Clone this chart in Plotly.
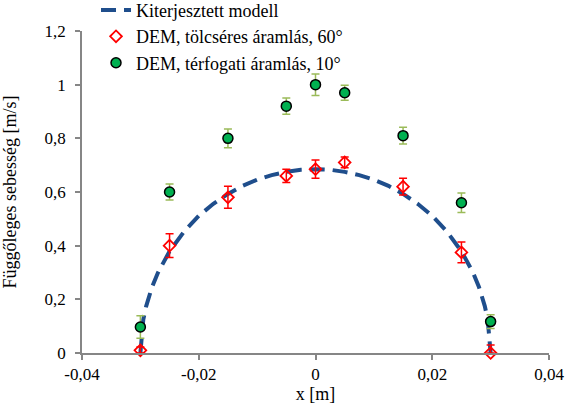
import plotly.graph_objects as go

# Model curve
model_x = [-0.03, -0.0295, -0.029, -0.028, -0.027, -0.025, -0.0225, -0.02, -0.0175, -0.015,
           -0.0125, -0.01, -0.0075, -0.005, -0.0025, 0.0, 0.0025, 0.005, 0.0075, 0.01,
           0.0125, 0.015, 0.0175, 0.02, 0.0225, 0.025, 0.027, 0.028, 0.029, 0.0295, 0.03]
model_y = [0.0, 0.125, 0.175, 0.246, 0.299, 0.379, 0.453, 0.511, 0.556, 0.593,
           0.623, 0.646, 0.663, 0.675, 0.683, 0.685, 0.683, 0.675, 0.663, 0.646,
           0.623, 0.593, 0.556, 0.511, 0.453, 0.379, 0.299, 0.246, 0.175, 0.125, 0.0]

# DEM, funnel flow 60°
red_x = [-0.03, -0.025, -0.015, -0.005, 0.0, 0.005, 0.015, 0.025, 0.03]
red_y = [0.01, 0.40, 0.58, 0.66, 0.685, 0.71, 0.62, 0.375, 0.0]
red_err_plus = [0.012, 0.044, 0.041, 0.025, 0.034, 0.02, 0.031, 0.039, 0.03]
red_err_minus = [0.01, 0.044, 0.041, 0.025, 0.034, 0.02, 0.031, 0.039, 0.0]

# DEM, mass flow 10°
green_x = [-0.03, -0.025, -0.015, -0.005, 0.0, 0.005, 0.015, 0.025, 0.03]
green_y = [0.097, 0.60, 0.80, 0.92, 1.0, 0.97, 0.81, 0.56, 0.117]
green_err = [0.042, 0.03, 0.035, 0.03, 0.04, 0.028, 0.031, 0.036, 0.026]

x_tickvals = [-0.04, -0.02, 0, 0.02, 0.04]
x_ticktext = ["-0,04", "-0,02", "0", "0,02", "0,04"]
y_tickvals = [0, 0.2, 0.4, 0.6, 0.8, 1.0, 1.2]
y_ticktext = ["0", "0,2", "0,4", "0,6", "0,8", "1", "1,2"]

FONT = "Liberation Serif"
AXIS_COLOR = "#868686"

fig = go.Figure()
fig.add_trace(go.Scatter(
    x=model_x, y=model_y, mode="lines", name="Kiterjesztett modell",
    line=dict(color="#1F4E8C", width=4, dash="15px,8px"),
    legendgroup="a", cliponaxis=False))
fig.add_trace(go.Scatter(
    x=red_x, y=red_y, mode="markers", name="DEM, tölcséres áramlás, 60°",
    marker=dict(symbol="diamond-open", size=9, color="#FF0000", line=dict(width=1.8, color="#FF0000")),
    error_y=dict(type="data", array=red_err_plus, arrayminus=red_err_minus, symmetric=False,
                 color="#FF0000", thickness=1.5, width=4),
    legendgroup="b", cliponaxis=False))
fig.add_trace(go.Scatter(
    x=green_x, y=green_y, mode="markers", name="DEM, térfogati áramlás, 10°",
    marker=dict(symbol="circle", size=10, color="#00B050", line=dict(width=1.5, color="#000000")),
    error_y=dict(type="data", array=green_err, color="#9BBB59", thickness=1.5, width=4),
    legendgroup="c", cliponaxis=False))

fig.update_layout(
    width=566, height=404,
    margin=dict(l=82, r=17, t=31, b=51, autoexpand=False),
    paper_bgcolor="white", plot_bgcolor="white",
    font=dict(family=FONT, size=16, color="black"),
    showlegend=True,
    legend=dict(x=0.03, y=1.122, xanchor="left", yanchor="top",
                bgcolor="rgba(0,0,0,0)", font=dict(family=FONT, size=18, color="black"),
                tracegroupgap=0, traceorder="normal"),
    xaxis=dict(range=[-0.04, 0.04], tickvals=x_tickvals, ticktext=x_ticktext, automargin=False,
               showgrid=False, zeroline=False, showline=True, linecolor=AXIS_COLOR, linewidth=1.5,
               ticks="outside", ticklen=5, tickcolor=AXIS_COLOR, tickwidth=1.5,
               tickfont=dict(family=FONT, size=17, color="black"),
               title=dict(text="x [m]", font=dict(family=FONT, size=18, color="black"), standoff=0)),
    yaxis=dict(range=[0, 1.2], tickvals=y_tickvals, ticktext=y_ticktext, automargin=False,
               showgrid=False, zeroline=False, showline=True, linecolor=AXIS_COLOR, linewidth=1.5,
               ticks="outside", ticklen=5, tickcolor=AXIS_COLOR, tickwidth=1.5,
               ticklabelstandoff=6,
               tickfont=dict(family=FONT, size=17, color="black"),
               title=dict(text="Függőleges sebesség [m/s]", font=dict(family=FONT, size=18, color="black"), standoff=28)),
)

fig.write_html("out.html")
